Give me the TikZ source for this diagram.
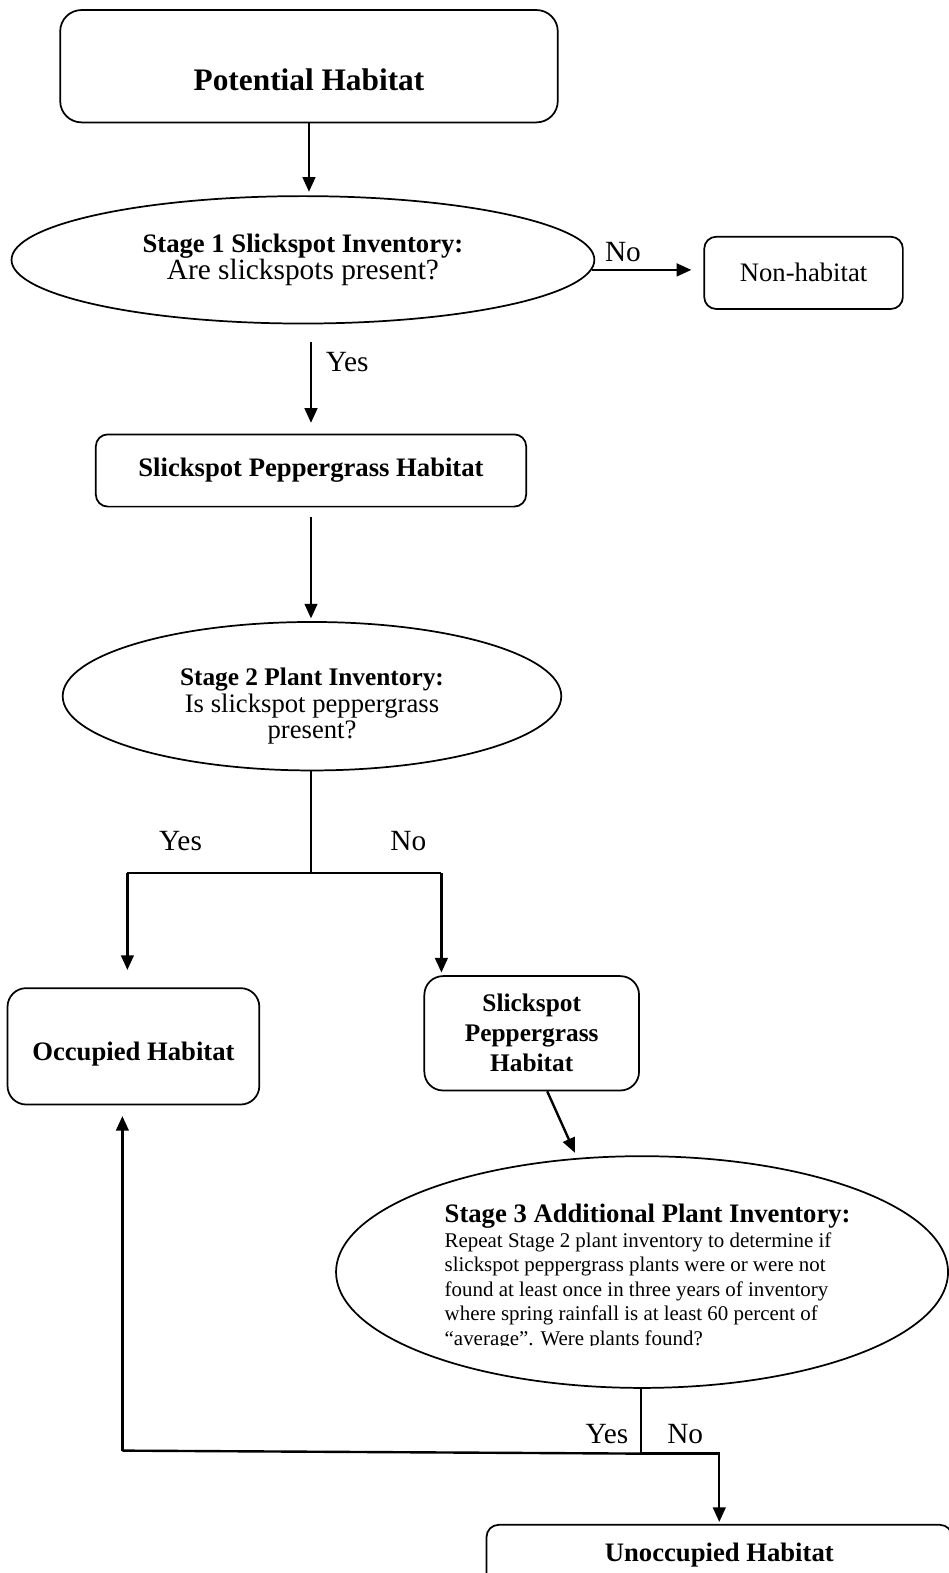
\documentclass[tikz,border=0pt]{standalone}
\usepackage{fontspec}
\setmainfont{Liberation Serif}
\usetikzlibrary{arrows.meta}
\usetikzlibrary{shapes.geometric}
\newcommand{\px}{0.7524pt}
\newcommand{\fsz}[2]{\fontsize{#1}{#2}\selectfont}

\begin{document}
\begin{tikzpicture}[x=\px,y=-\px,>={Triangle[length=11pt,width=9.5pt]},
box/.style={draw,line width=1.3pt,rounded corners=9pt,inner sep=0pt},
oval/.style={draw,ellipse,line width=1.3pt,align=center,inner sep=0pt},
link/.style={line width=1.8pt},
arr/.style={link,->},
answer/.style={font=\fsz{22}{24}}]
% The frame
\useasboundingbox (0,0) rectangle (945,1568);

% The boxes and ovals
\node[box,rounded corners=16pt,minimum width=496*\px,minimum height=112*\px,
  font=\bfseries\fsz{23.5}{26},text height=37pt,text depth=0pt] (pot) at (308,66) {Potential Habitat};
\node[oval,minimum width=581*\px,minimum height=127*\px,font=\fsz{20}{18}] (st1) at (302,259)
  {{\bfseries Stage 1 Slickspot Inventory:}\\{\fsz{22}{18}Are slickspots present?}};
\node[box,minimum width=198*\px,minimum height=72*\px,font=\fsz{20}{22}] (nonhab) at (801,272) {Non-habitat};
\node[box,minimum width=429*\px,minimum height=72*\px,font=\bfseries\fsz{20}{22}] (spg1) at (310,469)
  {Slickspot Peppergrass Habitat};
\node[oval,minimum width=497*\px,minimum height=148*\px] (st2) at (311,694) {};
\node[align=center,inner sep=0pt,font=\fsz{20}{20}] (st2txt) at (311,704)
  {{\bfseries\fsz{19}{20}Stage 2 Plant Inventory:}\\Is slickspot peppergrass\\present?};
\node[box,rounded corners=14pt,minimum width=251*\px,minimum height=116*\px,font=\bfseries\fsz{20}{22},
  text height=26pt,text depth=4.5pt] (occ) at (133,1043) {Occupied Habitat};
\node[box,rounded corners=14pt,align=center,minimum width=214*\px,minimum height=114*\px,
  font=\bfseries\fsz{19}{22.5}] (spg2) at (530,1030) {Slickspot\\Peppergrass\\Habitat};
\node[oval,minimum width=610*\px,minimum height=231*\px] (st3) at (640,1268) {};
\begin{scope}
\clip (335,1150) rectangle (945,1341);
\node[anchor=north west,inner sep=0pt,align=left,font=\fsz{15.7}{18.4}] (st3txt) at (443,1200)
  {{\bfseries\fsz{20}{18.4}Stage 3 Additional Plant Inventory:}\\
   Repeat Stage 2 plant inventory to determine if\\
   slickspot peppergrass plants were or were not\\
   found at least once in three years of inventory\\
   where spring rainfall is at least 60 percent of\\
   “average”. Were plants found?};
\end{scope}
\node[box,minimum width=464*\px,minimum height=60*\px,font=\bfseries\fsz{20}{22}] (unocc) at (717,1550)
  {Unoccupied Habitat};

% The answers
\node[answer] (no1) at (621,251) {No};
\node[answer] (yes1) at (346,361) {Yes};
\node[answer] (yes2) at (180,838) {Yes};
\node[answer] (no2) at (407,838) {No};
\node[answer] (yes3) at (605,1429) {Yes};
\node[answer] (no3) at (683,1429) {No};

% The joints
\coordinate (fork2) at (310,870);
\coordinate (forkL) at (127,870);
\coordinate (forkR) at (440,870);
\coordinate (tip3) at (573,1149);
\coordinate (fork3) at (639,1449);
\coordinate (backL) at (122,1446);

% The connectors
\draw[arr,shorten >=2.6pt] (pot.south) -- (pot.south |- st1.north);
\draw[arr,shorten >=9pt] (st1.-2) -- (st1.-2 -| nonhab.west);
\draw[arr,shorten <=13pt,shorten >=8pt] (st1.south -| spg1.north) -- (spg1.north);
\draw[arr,shorten <=7pt,shorten >=2pt] (spg1.south) -- (spg1.south |- st2.north);
\draw[link] (st2.south -| fork2) -- (fork2);
\draw[link] (forkL) -- (forkR);
\draw[arr,shorten >=13pt] (forkL) -- (forkL |- occ.north);
\draw[arr,shorten >=2pt] (forkR) -- (forkR |- spg2.north);
\draw[arr] (spg2.-75) -- (tip3);
\draw[link] (st3.south -| fork3) -- (fork3);
\draw[link] (fork3) -- (backL);
\draw[arr,shorten >=8pt] (backL) -- (backL |- occ.south);
\draw[arr,shorten >=1.5pt] (fork3) -| (unocc.north);

\end{tikzpicture}
\end{document}
